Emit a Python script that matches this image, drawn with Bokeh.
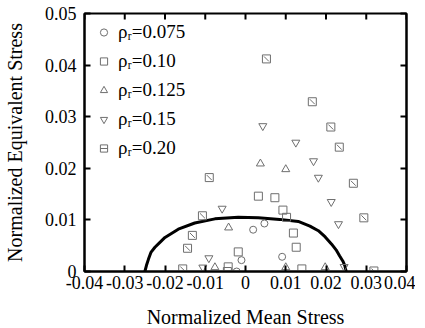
import math
from bokeh.plotting import figure
from bokeh.models import (LinearAxis, FixedTicker, Range1d, Legend, LegendItem,
                          ColumnDataSource, CustomJSTickFormatter)
from bokeh.embed import file_html
from bokeh.resources import INLINE

# ---- data ----
x_ticks = [-0.04, -0.03, -0.02, -0.01, 0.0, 0.01, 0.02, 0.03, 0.04]
x_tick_labels = ["-0.04", "-0.03", "-0.02", "-0.01", "0", "0.01", "0.02", "0.03", "0.04"]
y_ticks = [0.0, 0.01, 0.02, 0.03, 0.04, 0.05]
y_tick_labels = ["0", "0.01", "0.02", "0.03", "0.04", "0.05"]

series_labels = ["ρᵣ=0.075", "ρᵣ=0.10", "ρᵣ=0.125", "ρᵣ=0.15", "ρᵣ=0.20"]

r075_x = [0.0047, 0.0019, 0.0091, -0.0010, -0.0022]
r075_y = [0.0093, 0.0081, 0.00285, 0.0022, 0.0000]

r010_x = [0.0032, 0.0073, 0.0093, 0.0102, 0.0119, 0.0126, 0.0140, -0.0018, -0.0043, -0.0045]
r010_y = [0.0146, 0.0143, 0.0119, 0.0105, 0.00745, 0.0047, 0.0005, 0.0038, 0.0009, 0.0000]

r0125_x = [0.0037, 0.0100, -0.0042, -0.0076, 0.0100, 0.0198]
r0125_y = [0.0209, 0.0198, 0.0085, 0.0008, 0.0008, 0.0008]

r015_x = [0.0043, 0.0125, 0.0169, 0.0181, 0.0213, 0.0231, 0.0245, -0.0058, -0.0091, -0.0106]
r015_y = [0.0282, 0.0250, 0.0214, 0.0182, 0.0135, 0.0092, 0.0009, 0.0122, 0.0026, 0.0008]

r020_x = [0.0052, 0.0166, 0.0212, 0.0233, 0.0268, 0.0294, 0.0319, -0.0090, -0.0107, -0.0132, -0.0144, -0.0156]
r020_y = [0.0412, 0.0329, 0.0280, 0.0241, 0.0171, 0.0104, 0.0001, 0.0182, 0.0108, 0.0070, 0.0045, 0.0005]

curve_x = [-0.0250, -0.0246, -0.0241, -0.0235, -0.0225, -0.0212, -0.0200, -0.0167, -0.0126,
           -0.0076, -0.0018, 0.0032, 0.0085, 0.0131, 0.0160, 0.0181, 0.0198, 0.0214,
           0.0225, 0.0234, 0.0242, 0.0247, 0.0250]
curve_y = [0.0000, 0.0012, 0.0024, 0.0037, 0.0047, 0.0057, 0.0066, 0.0082, 0.0094,
           0.0102, 0.0105, 0.0104, 0.0101, 0.0097, 0.0088, 0.0079, 0.0067, 0.0053,
           0.0042, 0.0030, 0.0020, 0.0011, 0.0000]

FONT = "Liberation Serif"
MK = "#6e6e6e"

x_lo, x_hi = x_ticks[0], x_ticks[-1]
y_lo, y_hi = y_ticks[0], y_ticks[-1]

p = figure(frame_width=322, frame_height=258,
           x_range=Range1d(x_lo, x_hi), y_range=Range1d(y_lo, y_hi),
           output_backend="svg", toolbar_location=None,
           min_border_left=78, min_border_right=9, min_border_top=13, min_border_bottom=10)
p.xgrid.visible = False
p.ygrid.visible = False
p.outline_line_color = "black"
p.outline_line_width = 2
p.background_fill_color = "white"
p.border_fill_color = "white"

p.xaxis.axis_label = "Normalized Mean Stress"
p.yaxis.axis_label = "Normalized Equivalent Stress"


def style_axis(ax, ticks, labels):
    ax.ticker = FixedTicker(ticks=ticks)
    ax.major_tick_in = 6
    ax.major_tick_out = 0
    ax.minor_tick_in = 0
    ax.minor_tick_out = 0
    ax.axis_line_width = 2
    ax.axis_line_color = "black"
    ax.major_tick_line_width = 2
    ax.major_tick_line_color = "black"
    ax.major_label_text_font = FONT
    ax.major_label_text_font_size = "18px"
    ax.major_label_text_color = "black"
    ax.axis_label_text_font = FONT
    ax.axis_label_text_font_size = "20px"
    ax.axis_label_text_font_style = "normal"
    ax.axis_label_text_color = "black"
    if labels is None:
        ax.formatter = CustomJSTickFormatter(code="return '';")
        ax.major_label_standoff = 0
    else:
        ax.major_label_overrides = {t: l for t, l in zip(ticks, labels)}


style_axis(p.xaxis[0], x_ticks, x_tick_labels)
style_axis(p.yaxis[0], y_ticks, y_tick_labels)
p.xaxis.major_label_standoff = 4
p.xaxis.axis_label_standoff = 14
p.yaxis.major_label_standoff = 8
p.yaxis.axis_label_standoff = 16

right = LinearAxis()
style_axis(right, y_ticks, None)
p.add_layout(right, "right")

# inward tick marks along the top edge (half of each dash is clipped by the frame)
p.scatter(x=x_ticks, y=[y_hi] * len(x_ticks), marker="dash", angle=math.pi / 2,
          size=12, line_color="black", line_width=2)

# curve
p.line(curve_x, curve_y, line_color="black", line_width=3)

# markers
s1 = ColumnDataSource(dict(x=r075_x, y=r075_y))
s2 = ColumnDataSource(dict(x=r010_x, y=r010_y))
s3 = ColumnDataSource(dict(x=r0125_x, y=r0125_y))
s4 = ColumnDataSource(dict(x=r015_x, y=r015_y))
s5 = ColumnDataSource(dict(x=r020_x, y=r020_y))

g1 = p.scatter("x", "y", source=s1, marker="circle", size=7, fill_color=None, line_color=MK, line_width=1)
g2 = p.scatter("x", "y", source=s2, marker="square", size=8, fill_color=None, line_color=MK, line_width=1)
g3 = p.scatter("x", "y", source=s3, marker="triangle", size=8, fill_color=None, line_color=MK, line_width=1)
g4 = p.scatter("x", "y", source=s4, marker="inverted_triangle", size=8, fill_color=None, line_color=MK, line_width=1)
g5a = p.scatter("x", "y", source=s5, marker="square", size=8, fill_color=None, line_color=MK, line_width=1)
g5b = p.scatter("x", "y", source=s5, marker="dash", size=7, angle=-0.785398, line_color=MK, line_width=1)

legend = Legend(items=[
    LegendItem(label=series_labels[0], renderers=[g1]),
    LegendItem(label=series_labels[1], renderers=[g2]),
    LegendItem(label=series_labels[2], renderers=[g3]),
    LegendItem(label=series_labels[3], renderers=[g4]),
    LegendItem(label=series_labels[4], renderers=[g5a, g5b]),
])
legend.location = (7, 112)
legend.margin = 0
legend.padding = 0
legend.spacing = 7
legend.glyph_width = 25
legend.glyph_height = 18
legend.label_height = 18
legend.label_standoff = 2
legend.label_text_font = FONT
legend.label_text_font_size = "19px"
legend.label_text_color = "black"
legend.border_line_color = None
legend.background_fill_alpha = 0
p.add_layout(legend, "center")

open("out.html", "w").write(file_html(p, INLINE))
